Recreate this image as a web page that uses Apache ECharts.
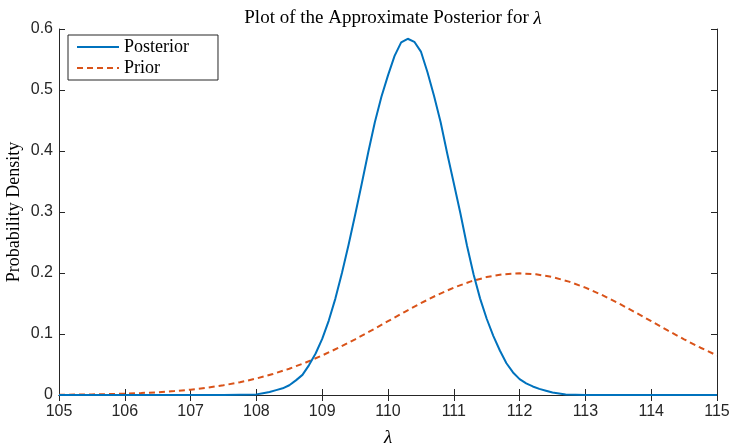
<!DOCTYPE html>
<html>
<head>
<meta charset="UTF-8">
<title>Approximate Posterior</title>
<script src="https://cdn.jsdelivr.net/npm/echarts@6/dist/echarts.min.js"></script>
<style>
  body { margin: 0; background: #fff; }
  #chart { width: 734px; height: 443px; }
</style>
</head>
<body>
<div id="chart"></div>
<script>
// posterior
var postX = [105, 106, 107, 107.5, 108.0, 108.1, 108.2, 108.3, 108.4, 108.5, 108.6, 108.7, 108.8, 108.9,
  109.0, 109.1, 109.2, 109.3, 109.4, 109.5, 109.6, 109.7, 109.8, 109.9, 110.0, 110.1, 110.2, 110.3,
  110.4, 110.5, 110.6, 110.7, 110.8, 110.9, 111.0, 111.1, 111.2, 111.3, 111.4, 111.5, 111.6, 111.7,
  111.8, 111.9, 112.0, 112.1, 112.2, 112.3, 112.4, 112.5, 112.7, 113, 114, 115];
var postY = [0, 0, 0, 0, 0.001, 0.003, 0.005, 0.008, 0.011, 0.016, 0.024, 0.033, 0.049, 0.068,
  0.092, 0.122, 0.158, 0.2, 0.246, 0.295, 0.346, 0.398, 0.447, 0.489, 0.524, 0.556, 0.578, 0.584,
  0.579, 0.563, 0.529, 0.49, 0.447, 0.396, 0.347, 0.298, 0.245, 0.198, 0.158, 0.125, 0.097, 0.073,
  0.052, 0.037, 0.026, 0.019, 0.014, 0.01, 0.007, 0.004, 0.001, 0, 0, 0];

// prior (dashed)
var priorX = [105, 105.25, 105.5, 105.75, 106, 106.25, 106.5, 106.75, 107, 107.25, 107.5, 107.75, 108, 108.25,
  108.5, 108.75, 109, 109.25, 109.5, 109.75, 110, 110.25, 110.5, 110.75, 111, 111.25, 111.5, 111.75, 112,
  112.25, 112.5, 112.75, 113, 113.25, 113.5, 113.75, 114, 114.25, 114.5, 114.75, 115];
var priorY = [0.0004, 0.0007, 0.001, 0.0015, 0.0022, 0.0032, 0.0045, 0.0064, 0.0088, 0.0119, 0.0159, 0.0209, 0.027, 0.0344,
  0.0431, 0.0533, 0.0648, 0.0775, 0.0913, 0.1059, 0.121, 0.136, 0.1506, 0.1641, 0.176, 0.1859, 0.1933, 0.1979, 0.1995,
  0.1979, 0.1933, 0.1859, 0.176, 0.1641, 0.1506, 0.136, 0.121, 0.1059, 0.0913, 0.0775, 0.0648];

var xTicks = [105, 106, 107, 108, 109, 110, 111, 112, 113, 114, 115];
var yTicks = [0, 0.1, 0.2, 0.3, 0.4, 0.5, 0.6];

function pairs(xs, ys) {
  return xs.map(function (x, i) { return [x, ys[i]]; });
}

var axisCol = '#262626';
var serif = '"Liberation Serif", "DejaVu Serif", serif';
var sans = '"Liberation Sans", Arial, sans-serif';

var chart = echarts.init(document.getElementById('chart'));
chart.setOption({
  animation: false,
  title: {
    text: 'Plot of the Approximate Posterior for {i|λ}',
    left: 388, top: 4, textAlign: 'center',
    textStyle: {
      fontFamily: serif, fontSize: 19, fontWeight: 'normal', color: '#000',
      rich: { i: { fontFamily: serif, fontStyle: 'italic', fontSize: 19, color: '#000' } }
    }
  },
  legend: {
    left: 68, top: 35, orient: 'vertical',
    backgroundColor: '#fff', borderColor: axisCol, borderWidth: 1,
    padding: [3, 29, 3, 8], itemWidth: 42, itemHeight: 14, itemGap: 3,
    itemStyle: { opacity: 0 },
    textStyle: { fontFamily: serif, fontSize: 18, lineHeight: 18, color: '#000' },
    data: ['Posterior', 'Prior']
  },
  grid: { left: 59, right: 17, top: 29, bottom: 48, containLabel: false, outerBoundsMode: 'none' },
  xAxis: [{
    type: 'value', min: xTicks[0], max: xTicks[xTicks.length - 1], interval: 1,
    name: 'λ', nameLocation: 'middle', nameGap: 33, nameMoveOverlap: false,
    nameTextStyle: { fontFamily: serif, fontStyle: 'italic', fontSize: 19, color: '#000' },
    axisLine: { lineStyle: { color: axisCol } },
    axisTick: { inside: true, length: 6, lineStyle: { color: axisCol } },
    axisLabel: { fontFamily: sans, fontSize: 16, color: axisCol, margin: 9 },
    splitLine: { show: false }
  }, {
    type: 'value', position: 'top', min: xTicks[0], max: xTicks[xTicks.length - 1], interval: 1,
    axisLine: { show: true, lineStyle: { color: axisCol } },
    axisTick: { inside: true, length: 6, lineStyle: { color: axisCol } },
    axisLabel: { show: false }, splitLine: { show: false }
  }],
  yAxis: [{
    type: 'value', min: yTicks[0], max: yTicks[yTicks.length - 1], interval: 0.1,
    name: 'Probability Density', nameLocation: 'middle', nameGap: 36, nameMoveOverlap: false,
    nameTextStyle: { fontFamily: serif, fontSize: 18, color: '#000' },
    axisLine: { show: true, lineStyle: { color: axisCol } },
    axisTick: { inside: true, length: 6, lineStyle: { color: axisCol } },
    axisLabel: {
      fontFamily: sans, fontSize: 16, color: axisCol, margin: 6,
      formatter: function (v) { return v === 0 ? '0' : v.toFixed(1); }
    },
    splitLine: { show: false }
  }, {
    type: 'value', position: 'right', min: yTicks[0], max: yTicks[yTicks.length - 1], interval: 0.1,
    axisLine: { show: true, lineStyle: { color: axisCol } },
    axisTick: { inside: true, length: 6, lineStyle: { color: axisCol } },
    axisLabel: { show: false }, splitLine: { show: false }
  }],
  series: [{
    name: 'Posterior', type: 'line', data: pairs(postX, postY),
    showSymbol: false, symbol: 'none', color: '#0072BD',
    lineStyle: { width: 2, color: '#0072BD' }, z: 3
  }, {
    name: 'Prior', type: 'line', data: pairs(priorX, priorY),
    showSymbol: false, symbol: 'none', color: '#D95319',
    lineStyle: { width: 2, color: '#D95319', type: [6, 4] }, z: 2
  }]
});
</script>
</body>
</html>
